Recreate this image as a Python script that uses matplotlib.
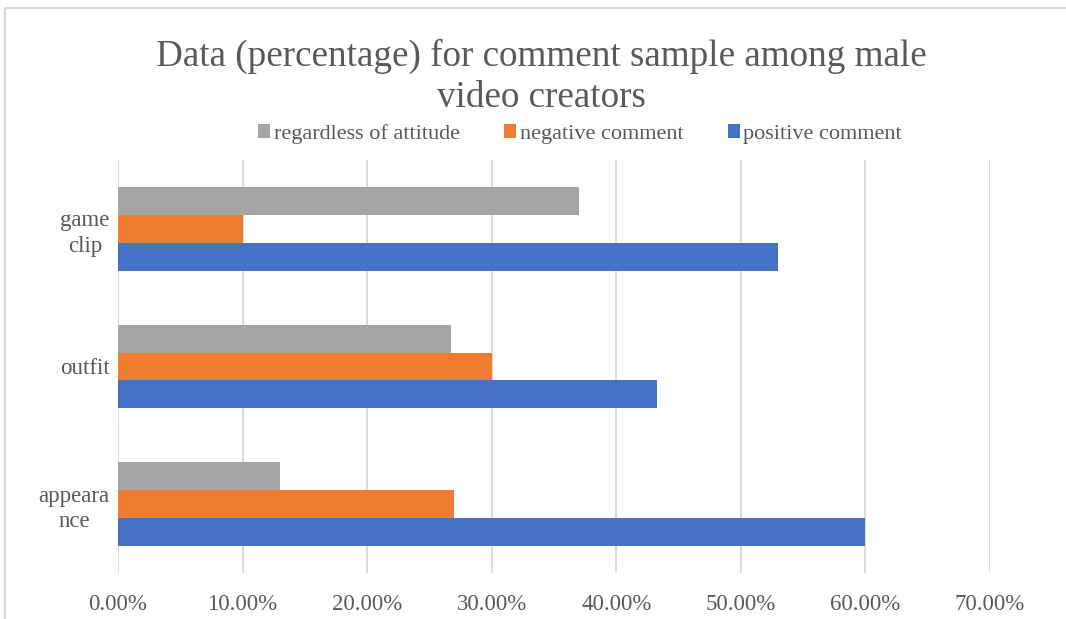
import matplotlib.pyplot as plt
from matplotlib.patches import Rectangle
from matplotlib.ticker import PercentFormatter
import numpy as np

categories = ['appeara\nnce', 'outfit', 'game\nclip']
positive = [0.60, 0.433, 0.53]
negative = [0.27, 0.30, 0.10]
regardless = [0.13, 0.267, 0.37]
x_ticks = [0.0, 0.1, 0.2, 0.3, 0.4, 0.5, 0.6, 0.7]

plt.rcParams['font.family'] = ['Liberation Serif', 'DejaVu Serif']
text_color = '#595959'

fig = plt.figure(figsize=(10.66, 6.19), dpi=100)
ax = fig.add_axes([118 / 1066, 1 - 573 / 619, (990 - 118) / 1066, (573 - 160) / 619])

# outer chart frame
fig.patches.append(Rectangle((5 / 1066, -0.1), 1.2, 1 - 8 / 619 + 0.1, transform=fig.transFigure,
                             fill=False, edgecolor='#D9D9D9', linewidth=1.5))

y = np.arange(len(categories))
h = 0.203
ax.barh(y - h, positive, h, color='#4472C4', label='positive comment', zorder=3)
ax.barh(y, negative, h, color='#ED7D31', label='negative comment', zorder=3)
ax.barh(y + h, regardless, h, color='#A5A5A5', label='regardless of attitude', zorder=3)

ax.set_xlim(0, 0.7)
ax.set_ylim(-0.5, 2.5)
ax.set_xticks(x_ticks)
ax.xaxis.set_major_formatter(PercentFormatter(1.0, decimals=2))
ax.set_yticks(y)
ax.set_yticklabels(categories, multialignment='center', linespacing=1.3)
ax.tick_params(axis='x', length=0, pad=15, labelsize=16.5, labelcolor=text_color)
ax.tick_params(axis='y', length=0, pad=6, labelsize=16.5, labelcolor=text_color)
ax.grid(axis='x', color='#D9D9D9', linewidth=1.3, zorder=0)
for s in ax.spines.values():
    s.set_visible(False)

fig.text(0.508, 1 - 77 / 619, 'Data (percentage) for comment sample among male\nvideo creators',
         ha='center', va='center', fontsize=26.7, color=text_color, linespacing=1.25)

handles, labels = ax.get_legend_handles_labels()
fig.legend(handles[::-1], labels[::-1], loc='center', bbox_to_anchor=(0.544, 1 - 134 / 619),
           ncol=3, frameon=False, fontsize=16, labelcolor=text_color,
           handlelength=0.55, handleheight=0.55, handletextpad=0.15, columnspacing=2.0)

plt.savefig('out.png', dpi=100)
